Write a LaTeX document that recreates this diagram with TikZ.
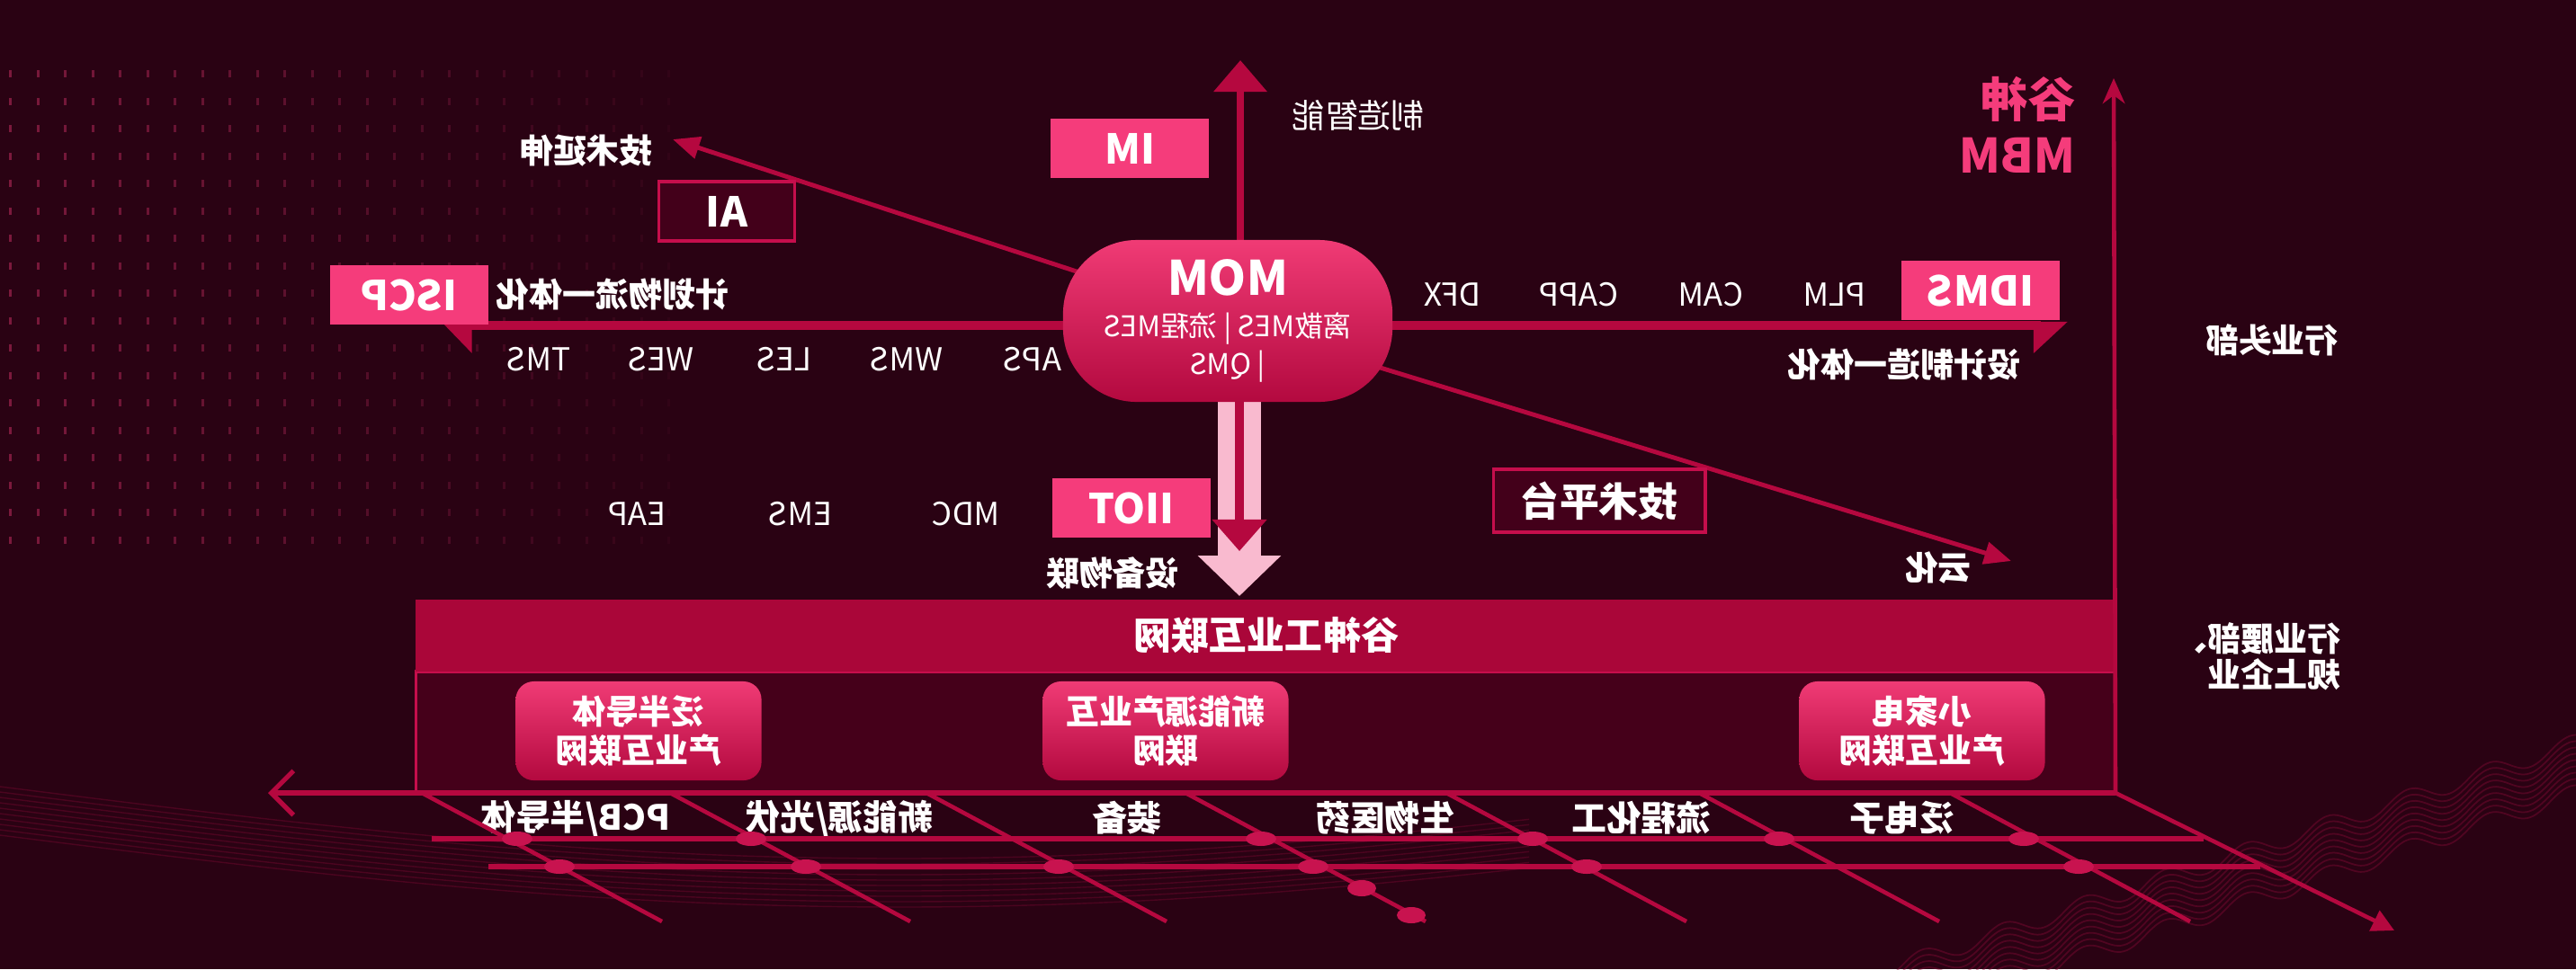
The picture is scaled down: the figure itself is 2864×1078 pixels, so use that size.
\documentclass[tikz,border=0pt]{standalone}
\usepackage{fontspec}
\setmainfont{Noto Sans CJK SC}
\usetikzlibrary{arrows.meta,positioning,calc,shapes.geometric,backgrounds}
\definecolor{clBg}{HTML}{2A0213}
\definecolor{clPink}{HTML}{F53C7B}
\definecolor{clRed}{HTML}{B5083F}
\definecolor{clBar}{HTML}{AA0639}
\definecolor{clDark}{HTML}{43001A}
\definecolor{clEdge}{HTML}{C50E4C}
\definecolor{clLight}{HTML}{F9BACF}
\definecolor{clWave}{HTML}{8A0A38}
\definecolor{clPanel}{HTML}{45001A}
\definecolor{clHubTop}{HTML}{F03B75}
\definecolor{clHubBot}{HTML}{B3093F}
\definecolor{clKnot}{HTML}{C8134F}
\pgfdeclarelayer{backdrop}
\pgfdeclarelayer{wires}
\pgfsetlayers{backdrop,wires,main}
\tikzset{
  flip/.style={xscale=-1},
  txt/.style={flip, text=white, inner sep=0pt, font=\fontsize{10}{12}\selectfont},
  txtb/.style={flip, text=white, inner sep=0pt, font=\bfseries\fontsize{10.5}{12}\selectfont},
  tag/.style={flip, fill=clPink, text=white, inner sep=0pt, minimum width=1.76cm,
              minimum height=0.65cm, font=\bfseries\fontsize{13}{15}\selectfont},
  darktag/.style={flip, fill=clDark, draw=clEdge, line width=1.1pt, text=white, inner sep=0pt,
                  minimum height=0.66cm, font=\bfseries\fontsize{13}{15}\selectfont},
  hub/.style={flip, rounded corners=0.82cm, top color=clHubTop, bottom color=clHubBot,
              minimum width=3.66cm, minimum height=1.8cm, text=white, align=center, inner sep=0pt},
  sector/.style={flip, rounded corners=0.2cm, top color=clHubTop, bottom color=clHubBot,
                 minimum width=2.73cm, minimum height=1.1cm, text=white, align=center,
                 inner sep=0pt, font=\bfseries\fontsize{10.5}{12.2}\selectfont},
  cat/.style={txtb, font=\bfseries\fontsize{11}{13}\selectfont},
  mainline/.style={draw=clRed, line width=2.8pt},
  thinline/.style={draw=clRed, line width=1.4pt},
  gridline/.style={draw=clRed, line width=1.3pt},
}
\begin{document}
\begin{tikzpicture}[x=0.01cm, y=-0.01cm]
  \useasboundingbox (0,0) rectangle (2864,1078);
  % backdrop: dots and waves
  \begin{pgfonlayer}{backdrop}
    \fill[clBg] (0,0) rectangle (2864,1078);
    \foreach \r in {0,...,17}
      \foreach \c in {0,...,24} {
        \pgfmathsetmacro\op{0.4*(1-\c/27)}
        \fill[clPink, opacity=\op] ({10+\c*30.5},{78+\r*30.5}) rectangle ++(3,8);
      }
    \foreach \k in {0,...,9}
      \draw[clWave, opacity=0.35, line width=0.4pt]
        plot[smooth, domain=0:1700, samples=50] (\x, {875 + 80*sin(\x*0.09) + 6*\k});
    \foreach \k in {0,...,8}
      \draw[clWave, opacity=0.4, line width=0.5pt]
        plot[smooth, domain=2050:2864, samples=120] (\x, {1095 - 0.33*(\x-2050) + 7*\k + 10*sin(\x*4)});
  \end{pgfonlayer}

  % nodes
  \node[hub] (mom) at (1365,357) {{\bfseries\fontsize{15}{15}\selectfont MOM}\\[1pt]
    {\fontsize{9}{11.4}\selectfont 离散MES | 流程MES}\\{\fontsize{9}{11.4}\selectfont | QMS}};
  \node[tag] (im) at (1256,165) {IM};
  \node[tag] (iscp) at (455,328) {ISCP};
  \node[tag] (idms) at (2202,323) {IDMS};
  \node[tag] (iiot) at (1258,565) {IIOT};
  \node[darktag, minimum width=1.51cm] (ai) at (808,235) {AI};
  \node[darktag, minimum width=2.35cm, minimum height=0.7cm,
        font=\bfseries\fontsize{12.5}{14}\selectfont] (platform) at (1778,557) {技术平台};

  \node[txt, font=\fontsize{10.5}{12}\selectfont] (smart) at (1510,128) {制造智能};
  \node[txtb] (extend) at (652,168) {技术延伸};
  \node[txtb] (plan) at (681,327) {计划物流一体化};
  \node[txtb] (design) at (2117,405) {设计制造一体化};
  \node[txtb] (cloud) at (2155,632) {云化};
  \node[txtb] (device) at (1237,638) {设备物联};
  \node[txtb] (head) at (2526,378) {行业头部};
  \node[txtb, align=left, font=\bfseries\fontsize{10.5}{11.5}\selectfont] (waist) at (2510,730) {行业腰部、\\规上企业};
  \node[flip, text=clPink, inner sep=0pt, align=left,
        font=\bfseries\fontsize{15}{17.6}\selectfont] (brand) at (2243,139) {谷神\\MBM};

  \foreach \name/\x in {TMS/599, WES/735, LES/872, WMS/1008, APS/1148}
    \node[txt] (l\name) at (\x,400) {\name};
  \foreach \name/\x in {DFX/1615, CAPP/1755, CAM/1902, PLM/2040}
    \node[txt] (r\name) at (\x,328) {\name};
  \foreach \name/\x in {EAP/708, EMS/890, MDC/1074}
    \node[txt] (d\name) at (\x,572) {\name};

  \node[flip, fill=clPanel, draw=clEdge, line width=1pt, inner sep=0pt,
        minimum width=18.89cm, minimum height=1.35cm] (panel) at (1407.5,814.5) {};
  \node[flip, fill=clBar, inner sep=0pt, minimum width=18.89cm, minimum height=0.8cm, text=white,
        font=\bfseries\fontsize{12}{14}\selectfont] (bar) at (1407.5,707) {谷神工业互联网};
  \node[sector] (semi) at (710,813) {泛半导体\\产业互联网};
  \node[sector] (energy) at (1296,813) {新能源产业互\\联网};
  \node[sector] (appl) at (2137,813) {小家电\\产业互联网};

  \foreach \name/\x [count=\i] in {{PCB/半导体}/640, {新能源/光伏}/933, 装备/1253, 生物医药/1540, 流程化工/1825, 泛电子/2115}
    \node[cat] (cat\i) at (\x,910) {\name};

  % free ends
  \coordinate (upTip) at (1379,67);
  \coordinate (upFoot) at (1379,300);
  \coordinate (leftTip) at (491,362);
  \coordinate (rightTip) at (2299,362);
  \coordinate (extTip) at (748,155);
  \coordinate (cloudTip) at (2236,624);
  \coordinate (downFoot) at (1378,420);
  \coordinate (downTip) at (1378,663);
  \coordinate (downTipIn) at (1378,613);
  \coordinate (corner) at (2352,882);
  \coordinate (xTip) at (298,882);
  \coordinate (yTip) at (2350,87);

  % connectors behind the boxes
  \begin{pgfonlayer}{wires}
    \draw[mainline, line width=2.3pt, -{Triangle[length=10pt, width=16.5pt]}] (upFoot) -- (upTip);
    \draw[mainline, -{Triangle[left, length=8.5pt, width=17pt]}] (mom.center |- leftTip) -- (leftTip);
    \draw[mainline, -{Triangle[right, length=9.5pt, width=17pt]}] (mom.center |- rightTip) -- (rightTip);
    \draw[thinline, -{Triangle[length=8.5pt, width=7pt]}] (mom.center) -- (extTip);
    \draw[thinline, -{Triangle[length=8.5pt, width=7pt]}] (mom.center) -- (cloudTip);
    \draw[draw=clLight, line width=13.4pt, -{Triangle[length=12.8pt, width=25.6pt]}] (downFoot) -- (downTip);
    \draw[draw=clRed, line width=3.1pt, -{Triangle[length=10pt, width=16.8pt]}] (downFoot) -- (downTipIn);
  \end{pgfonlayer}

  % axes
  \draw[draw=clRed, line width=1.5pt, -{Straight Barb[length=7pt, width=14pt]}] (corner) -- (xTip);
  \draw[draw=clRed, line width=1.3pt, -{Stealth[length=8pt, width=7pt]}] (corner) -- (yTip);

  % perspective grid
  \foreach \t in {469,745,1030,1318,1608,1889,2168}
    \draw[gridline] (\t,882) -- ++(267,143);
  \draw[gridline, -{Triangle[length=7pt, width=7pt]}] (corner) -- (2662,1035);
  \draw[gridline, line width=1.5pt] (480,933) -- (2450,933);
  \draw[gridline, line width=1.5pt] (543,964) -- (2513,964);
  \foreach \x in {575,835,1402,1704,1978,2250}
    \fill[clKnot] (\x,933) ellipse (17 and 8);
  \foreach \x in {622,896,1177,1460,1764,2311}
    \fill[clKnot] (\x,964) ellipse (17 and 8);
  \fill[clKnot] (1514,988) ellipse (16 and 9);
  \fill[clKnot] (1569,1018) ellipse (16 and 9);
\end{tikzpicture}
\end{document}
